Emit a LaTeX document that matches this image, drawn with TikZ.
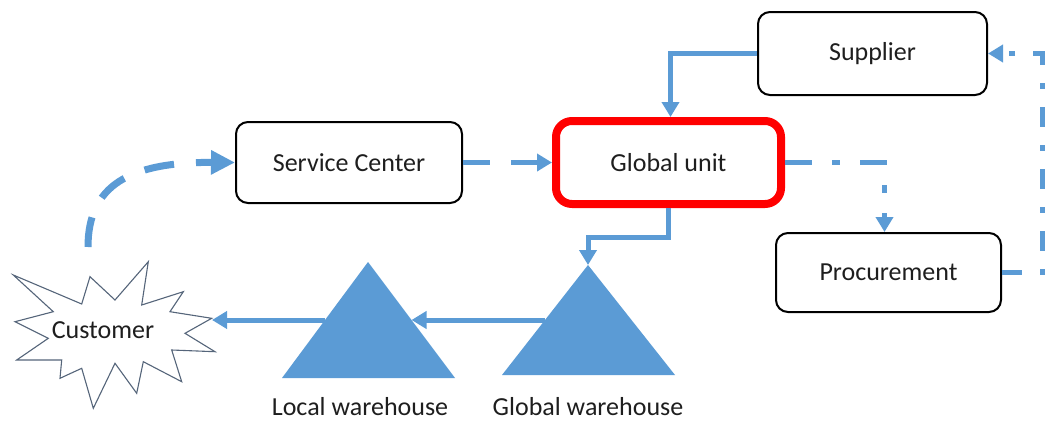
\documentclass[tikz,border=0pt]{standalone}
\usepackage{fontspec}
\setmainfont{Carlito}
\usetikzlibrary{arrows.meta}
\definecolor{flowblue}{HTML}{5B9BD5}
\definecolor{housefill}{HTML}{5B9BD5}
\definecolor{alertred}{HTML}{FF0000}
\definecolor{txtgray}{HTML}{1E1E1E}
\definecolor{starline}{HTML}{55657A}
\begin{document}
\begin{tikzpicture}[x=1pt,y=-1pt,
  box/.style={draw=black, line width=2pt, rounded corners=12pt, inner sep=0pt,
    text=txtgray, font=\fontsize{26}{30}\selectfont},
  keybox/.style={box, draw=alertred, line width=8pt, rounded corners=16pt},
  label/.style={text=txtgray, font=\fontsize{26}{30}\selectfont, inner sep=0pt},
  tipS/.style={-{Triangle[length=15pt,width=17pt]}},
  flow/.style={draw=flowblue, line width=5pt, tipS},
  flowdash/.style={flow, dash pattern=on 27pt off 21pt},
  flowdashdot/.style={flow, dash pattern=on 27pt off 20pt on 8pt off 20pt},
  returnline/.style={flow, dash pattern=on 20pt off 18pt on 6pt off 18pt},
  housestyle/.style={fill=housefill, draw=none},
  starstyle/.style={draw=starline, line width=1.1pt, fill=white, line join=miter},
]
\useasboundingbox (0,0) rectangle (1046,423);

% process boxes
\node[box, minimum width=226pt, minimum height=81pt] (sc) at (349,162.5) {Service Center};
\node[keybox, minimum width=225pt, minimum height=83pt] (gu) at (668.5,162.5) {Global unit};
\node[box, minimum width=229pt, minimum height=83pt] (sup) at (872.5,53.5) {Supplier};
\node[box, minimum width=225pt, minimum height=79pt] (pr) at (888.5,272.5) {Procurement};

% warehouses
\coordinate (lwtop) at (368,262);
\coordinate (gwtop) at (588,265);
\fill[housestyle] (lwtop) -- (455,378) -- (282,378) -- cycle;
\fill[housestyle] (gwtop) -- (675,375) -- (502,375) -- cycle;
\coordinate (lwleft) at (325,320);
\coordinate (lwright) at (411.5,320);
\coordinate (gwleft) at (545,320);
\node[label] (lwlabel) at (360,407) {Local warehouse};
\node[label] (gwlabel) at (588,407) {Global warehouse};

% customer burst
\draw[starstyle] (13.3,275) -- (81.7,304) -- (90,276.7) -- (115,300) -- (148.3,261.7)
  -- (141.7,305) -- (183.3,291.7) -- (170,311.7) -- (211.7,318.3) -- (185,333.3)
  -- (215,351.7) -- (171.7,350) -- (181.7,381.7) -- (143.3,361.7) -- (136.7,393.3)
  -- (115,363.3) -- (93.3,408.3) -- (81.7,368.3) -- (60,378.3) -- (61.7,360)
  -- (16.7,360) -- (48.3,338.3) -- (15,321.7) -- (53.3,311.7) -- cycle;
\node[label] (cust) at (103,330) {Customer};
\coordinate (custtop) at (88,247);
\coordinate (custright) at (212,320);

% flows
\draw[flowdash] (sc.east) -- (gu.west);
\draw[flow] (sup.west) -| ([xshift=2pt]gu.north);
\draw[flow] (gu.south) -- ++(0,29) -| (gwtop);
\draw[flowdashdot] (gu.east) -| ([xshift=-4pt]pr.north);
\draw[returnline] (pr.east) -- ++(40,0) |- (sup.east);
\draw[flow] (gwleft) -- (lwright);
\draw[flow] (lwleft) -- (custright);
\draw[draw=flowblue, line width=7pt, dash pattern=on 30pt off 22pt,
  -{Triangle[length=24pt,width=23pt]}]
  (custtop) .. controls (88,185) and (130,162) .. (sc.west);
\end{tikzpicture}
\end{document}
